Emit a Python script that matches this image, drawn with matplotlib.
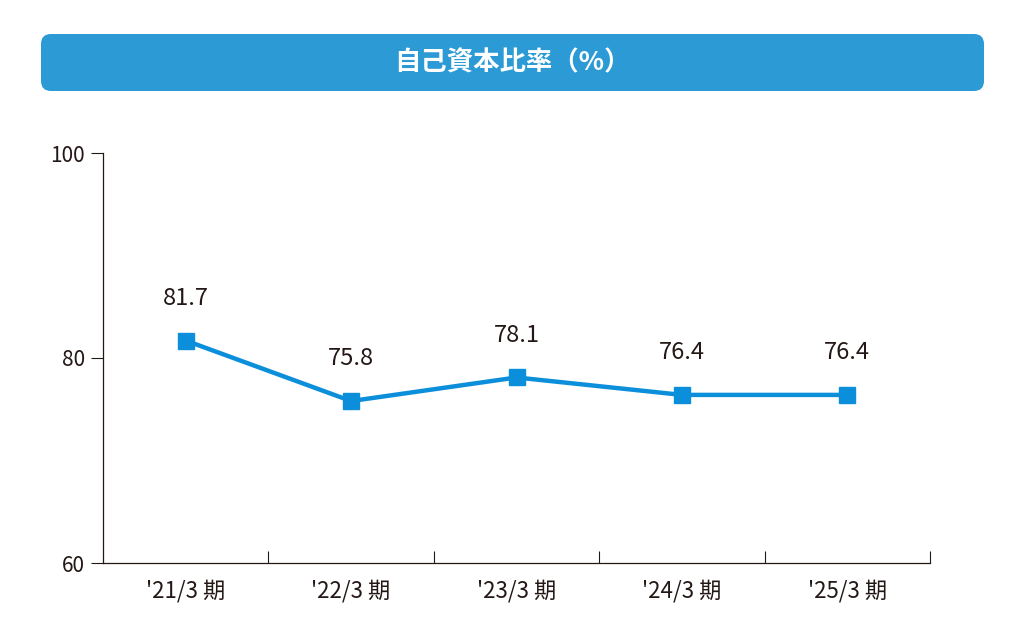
import matplotlib
matplotlib.use("Agg")
import matplotlib.pyplot as plt
from matplotlib.patches import FancyBboxPatch

categories = ["'21/3 期", "'22/3 期", "'23/3 期", "'24/3 期", "'25/3 期"]
values = [81.7, 75.8, 78.1, 76.4, 76.4]
yticks = [60, 80, 100]
title = "自己資本比率（%）"

plt.rcParams["font.family"] = ["Noto Sans CJK JP", "DejaVu Sans"]
fig = plt.figure(figsize=(10.25, 6.41), dpi=100)

bg = fig.add_axes([0, 0, 1, 1]); bg.set_axis_off(); bg.set_xlim(0, 1025); bg.set_ylim(641, 0)
bg.add_patch(FancyBboxPatch((41, 34), 943, 57, boxstyle="round,pad=0,rounding_size=10",
                            facecolor="#2b9ad5", edgecolor="none"))
bg.text(512, 63, title, color="white", fontsize=19, fontweight="bold", ha="center", va="center")

ax = fig.add_axes([103/1025, 1-563/641, 827/1025, 410/641])
x = list(range(len(categories)))
ax.plot(x, values, color="#0c8fdb", lw=3.2, marker="s", ms=11, zorder=3)
for xi, v in zip(x, values):
    ax.annotate(f"{v:.1f}", (xi, v), xytext=(0, 22), textcoords="offset points",
                ha="center", va="bottom", fontsize=17, color="#231815")
ax.set_xlim(-0.5, 4.5)
ax.set_ylim(60, 100)
ax.set_yticks(yticks)
ax.set_yticklabels([str(t) for t in yticks], fontsize=15, color="#231815")
ax.set_xticks([i + 0.5 for i in range(len(categories))])
ax.set_xticklabels([])
ax.set_xticks(x, minor=True)
ax.set_xticklabels(categories, minor=True, fontsize=16, color="#231815")
ax.tick_params(axis="x", which="minor", length=0, pad=12)
ax.tick_params(axis="x", which="major", direction="in", length=9, color="#231815")
ax.tick_params(axis="y", direction="out", length=9, color="#231815", pad=4)
for s in ["top", "right"]:
    ax.spines[s].set_visible(False)
for s in ["left", "bottom"]:
    ax.spines[s].set_color("#231815"); ax.spines[s].set_linewidth(0.9)
fig.savefig("out.png", dpi=100)
